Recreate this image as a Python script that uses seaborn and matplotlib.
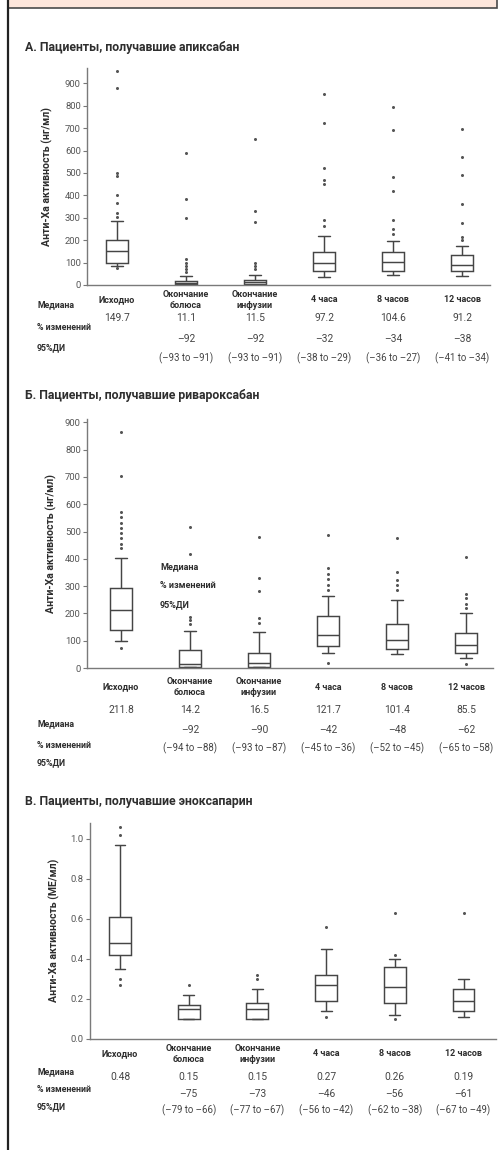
import numpy as np
import pandas as pd
import matplotlib
matplotlib.use("Agg")
import matplotlib.pyplot as plt
import matplotlib.transforms as mtransforms
from matplotlib.patches import Rectangle
from matplotlib.lines import Line2D
import seaborn as sns

sns.set_theme(style="ticks")
SANS = ["Roboto", "DejaVu Sans"]
plt.rcParams["font.family"] = SANS

# ---------------------------------------------------------------- data
timepoints = ["Исходно", "Окончание\nболюса", "Окончание\nинфузии",
              "4 часа", "8 часов", "12 часов"]
row_labels = ["Медиана", "% изменений", "95%ДИ"]

# A. apixaban, anti-Xa activity (ng/mL)
apx_low = [85, 0, 0, 34, 45, 40]
apx_q1 = [100, 4, 4, 62, 64, 62]
apx_median = [149.7, 11.1, 11.5, 97.2, 104.6, 91.2]
apx_q3 = [200, 20, 22, 146, 149, 132]
apx_high = [286, 40, 45, 219, 198, 176]
apx_outliers = [
    [955, 878, 500, 487, 402, 366, 321, 304, 78],
    [590, 384, 300, 115, 100, 85, 70, 58],
    [652, 330, 283, 100, 85, 70],
    [851, 725, 521, 470, 450, 290, 262],
    [796, 692, 484, 421, 290, 250, 228],
    [695, 573, 491, 362, 278, 215, 200],
]
apx_change = ["", "–92", "–92", "–32", "–34", "–38"]
apx_ci = ["", "(–93 to –91)", "(–93 to –91)", "(–38 to –29)",
          "(–36 to –27)", "(–41 to –34)"]

# B. rivaroxaban, anti-Xa activity (ng/mL)
riv_low = [99, 2, 2, 56, 50, 35]
riv_q1 = [139, 5, 4, 81, 68, 54]
riv_median = [211.8, 14.2, 16.5, 121.7, 101.4, 85.5]
riv_q3 = [294, 66, 54, 190, 160, 129]
riv_high = [402, 136, 131, 264, 250, 200]
riv_outliers = [
    [863, 703, 573, 552, 531, 512, 493, 475, 456, 438, 72],
    [518, 416, 188, 175, 160],
    [481, 328, 282, 183, 165],
    [487, 366, 345, 325, 305, 286, 17],
    [475, 350, 322, 304, 285],
    [408, 270, 255, 235, 220, 15],
]
riv_change = ["", "–92", "–90", "–42", "–48", "–62"]
riv_ci = ["", "(–94 to –88)", "(–93 to –87)", "(–45 to –36)",
          "(–52 to –45)", "(–65 to –58)"]

# C. enoxaparin, anti-Xa activity (IU/mL)
eno_low = [0.35, 0.10, 0.10, 0.14, 0.12, 0.106]
eno_q1 = [0.42, 0.10, 0.10, 0.19, 0.18, 0.14]
eno_median = [0.48, 0.15, 0.15, 0.27, 0.26, 0.19]
eno_q3 = [0.606, 0.17, 0.18, 0.32, 0.36, 0.25]
eno_high = [0.97, 0.22, 0.25, 0.45, 0.40, 0.30]
eno_outliers = [
    [1.06, 1.02, 0.30, 0.27],
    [0.27],
    [0.32, 0.30],
    [0.56, 0.11],
    [0.63, 0.42, 0.10],
    [0.63],
]
eno_change = ["", "–75", "–73", "–46", "–56", "–61"]
eno_ci = ["", "(–79 to –66)", "(–77 to –67)", "(–56 to –42)",
          "(–62 to –38)", "(–67 to –49)"]

# ---------------------------------------------------------------- figure
W, H = 498, 1150
fig = plt.figure(figsize=(W / 100, H / 100), dpi=100)
fig.patch.set_facecolor("white")
# pixel coordinates, origin at the top-left corner
pix = mtransforms.Affine2D().scale(1 / W, -1 / H).translate(0, 1) + fig.transFigure

# header strip and left frame line
fig.add_artist(Rectangle((8, -3), 489, 11, transform=pix, facecolor="#fde6db",
                         edgecolor="#4a4a4a", linewidth=1.2))
fig.add_artist(Line2D([7.5, 7.5], [0, H], transform=pix, color="#222222",
                      linewidth=1.6))

TEXT = "#2e2e2e"
VAL = "#444444"
LINE = "#454545"


def box_frame(low, q1, med, q3, high):
    rows = [(t, v) for t, five in zip(timepoints, zip(low, q1, med, q3, high))
            for v in five]
    return pd.DataFrame(rows, columns=["time", "value"])


def point_frame(outliers):
    rows = [(t, v) for t, vs in zip(timepoints, outliers) for v in vs]
    return pd.DataFrame(rows, columns=["time", "value"])


panels = [
    dict(title="А. Пациенты, получавшие апиксабан",
         ylabel="Анти-Xa активность (нг/мл)",
         stats=(apx_low, apx_q1, apx_median, apx_q3, apx_high),
         outliers=apx_outliers, change=apx_change, ci=apx_ci,
         ticks=np.arange(0, 901, 100), fmt="{:.0f}",
         left=87, right=490, zero=285, top=68, scale=0.224, c0=117, step=69,
         title_y=47, ylabel_x=47, cat_y=300,
         val_y=(318, 339, 358), lab_y=(305, 327, 348), inner=None),
    dict(title="Б. Пациенты, получавшие ривароксабан",
         ylabel="Анти-Xa активность (нг/мл)",
         stats=(riv_low, riv_q1, riv_median, riv_q3, riv_high),
         outliers=riv_outliers, change=riv_change, ci=riv_ci,
         ticks=np.arange(0, 901, 100), fmt="{:.0f}",
         left=87, right=493, zero=668, top=419, scale=0.273, c0=121, step=69,
         title_y=395, ylabel_x=51, cat_y=687,
         val_y=(710, 730, 748), lab_y=(724, 745, 763),
         inner=(160, (567, 586, 605))),
    dict(title="В. Пациенты, получавшие эноксапарин",
         ylabel="Анти-Xa активность (МЕ/мл)",
         stats=(eno_low, eno_q1, eno_median, eno_q3, eno_high),
         outliers=eno_outliers, change=eno_change, ci=eno_ci,
         ticks=np.round(np.arange(0, 1.01, 0.2), 1), fmt="{:.1f}",
         left=90, right=496, zero=1038.5, top=823, scale=200.0, c0=120, step=68.7,
         title_y=802, ylabel_x=54, cat_y=1054,
         val_y=(1077, 1094, 1110), lab_y=(1072, 1089, 1107), inner=None),
]

for p in panels:
    ax = fig.add_axes([p["left"] / W, 1 - p["zero"] / H,
                       (p["right"] - p["left"]) / W, (p["zero"] - p["top"]) / H])
    ax.set_facecolor("none")

    boxes = box_frame(*p["stats"])
    sns.boxplot(data=boxes, x="time", y="value", order=timepoints,
                whis=np.inf, width=0.32, color="white", linecolor=LINE,
                linewidth=1.05, ax=ax)
    pts = point_frame(p["outliers"])
    sns.stripplot(data=pts, x="time", y="value", order=timepoints,
                  jitter=False, size=2.2, color="#555555", linewidth=0, ax=ax)

    ax.set_xlim((p["left"] - p["c0"]) / p["step"], (p["right"] - p["c0"]) / p["step"])
    ax.set_ylim(0, (p["zero"] - p["top"]) / p["scale"])
    ax.set_xticks([])
    ax.set_xlabel("")
    ax.set_ylabel("")
    ax.set_yticks(p["ticks"], labels=[p["fmt"].format(t) for t in p["ticks"]],
                  fontsize=6.8, color="#555555")
    ax.tick_params(axis="y", length=3, width=0.8, color="#777777", pad=1.5)
    sns.despine(ax=ax)
    for side in ("left", "bottom"):
        ax.spines[side].set_color("#7a7a7a")
        ax.spines[side].set_linewidth(1.0)

    # title and axis label
    fig.text(25 / W, 1 - p["title_y"] / H, p["title"], fontsize=8.8,
             fontweight="bold", color=TEXT, va="center", ha="left")
    fig.text(p["ylabel_x"] / W, 1 - ((p["zero"] + p["top"]) / 2) / H,
             p["ylabel"], rotation=90, fontsize=7.6, fontweight="bold",
             color=TEXT, va="center", ha="center")

    # category names and summary rows under the axis
    tr = mtransforms.blended_transform_factory(ax.transData, pix)
    med = p["stats"][2]
    for i, name in enumerate(timepoints):
        ax.text(i, p["cat_y"], name, transform=tr, ha="center", va="center",
                fontsize=6.5, fontweight="bold", color=TEXT, linespacing=1.2)
        for txt, y, fs in zip((f"{med[i]:g}", p["change"][i], p["ci"][i]),
                              p["val_y"], (7.4, 7.4, 6.9)):
            if txt:
                ax.text(i, y, txt, transform=tr, ha="center", va="center",
                        fontsize=fs, color=VAL)
    for lab, y in zip(row_labels, p["lab_y"]):
        fig.text(37 / W, 1 - y / H, lab, fontsize=6.3, fontweight="bold",
                 color=TEXT, ha="left", va="center")
    if p["inner"] is not None:
        x0, ys = p["inner"]
        for lab, y in zip(row_labels, ys):
            fig.text(x0 / W, 1 - y / H, lab, fontsize=6.5, fontweight="bold",
                     color=TEXT, ha="left", va="center")

fig.savefig("out.png", dpi=100, facecolor="white")
